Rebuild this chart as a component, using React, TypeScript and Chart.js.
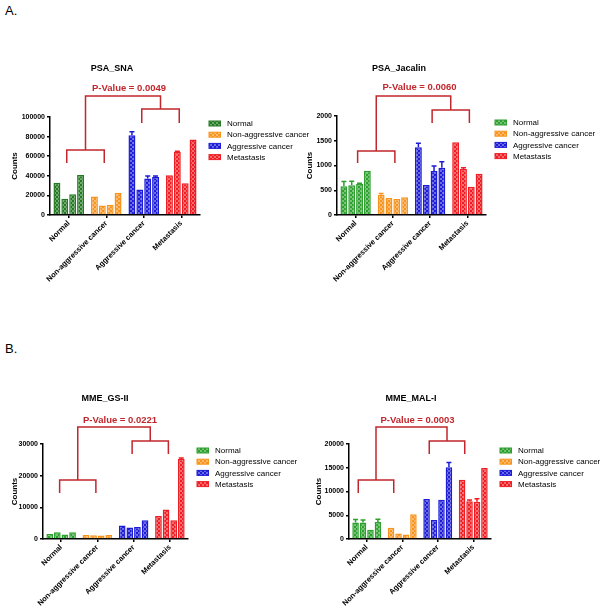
import React, { useEffect, useRef } from 'react';
import { Chart, registerables } from 'chart.js';
Chart.register(...registerables);

const categories = ['Normal', 'Non-aggressive cancer', 'Aggressive cancer', 'Metastasis'];
const baseColors = ['#2ca02c', '#f7941d', '#1c1cd6', '#ee1d23'];

// [category][sample]
const psaSnaValues = [
  [33000, 16600, 21300, 40900],
  [19000, 9700, 10500, 22600],
  [81400, 25900, 37200, 38900],
  [40600, 64400, 32400, 77000],
];
const psaSnaErrors = [
  [0, 0, 0, 0],
  [0, 0, 0, 0],
  [3600, 0, 2700, 800],
  [0, 600, 0, 0],
];
const psaJacalinValues = [
  [580, 600, 626, 896],
  [410, 343, 323, 357],
  [1367, 606, 889, 956],
  [1468, 929, 572, 835],
];
const psaJacalinErrors = [
  [95, 80, 15, 0],
  [25, 0, 0, 0],
  [80, 0, 100, 120],
  [0, 25, 0, 0],
];
const mmeGsValues = [
  [1600, 2100, 1400, 2100],
  [1300, 1200, 1100, 1300],
  [4300, 3600, 3800, 5900],
  [7300, 9300, 5900, 25300],
];
const mmeGsErrors = [
  [0, 0, 0, 0],
  [0, 0, 0, 0],
  [0, 0, 0, 0],
  [0, 0, 0, 300],
];
const mmeMalValues = [
  [3500, 3450, 1950, 3600],
  [2350, 1150, 950, 5200],
  [8400, 4000, 8250, 15100],
  [12450, 7950, 7850, 14950],
];
const mmeMalErrors = [
  [600, 550, 0, 550],
  [0, 0, 0, 0],
  [0, 0, 0, 1000],
  [0, 250, 650, 0],
];

const FONT = "'Liberation Sans', Arial, Helvetica, sans-serif";
const RED = '#c1272d';

const panels = [
  {
    id: 'a1', title: 'PSA_SNA', pText: 'P-Value = 0.0049', values: psaSnaValues, errors: psaSnaErrors,
    yMax: 100000, step: 20000, left: 50, top: 117, right: 200, bottom: 215, padL: 6,
    normalColor: '#237a23', shift: -2,
    lv: { top: -21, rightH: -8, rightLeg: 6, leftH: 33, leftLeg: 46, p: -29, title: -48 },
  },
  {
    id: 'a2', title: 'PSA_Jacalin', pText: 'P-Value = 0.0060', values: psaJacalinValues, errors: psaJacalinErrors,
    yMax: 2000, step: 500, left: 337, top: 116, right: 486, bottom: 215, padL: 301,
    normalColor: '#2f9f2f', shift: 2,
    lv: { top: -20, rightH: -6, rightLeg: 7, leftH: 35, leftLeg: 47, p: -29, title: -47 },
  },
  {
    id: 'b1', title: 'MME_GS-II', pText: 'P-Value = 0.0221', values: mmeGsValues, errors: mmeGsErrors,
    yMax: 30000, step: 10000, left: 43, top: 444, right: 188, bottom: 539, padL: 6,
    normalColor: '#2ca02c', shift: -1.5,
    lv: { top: -17, rightH: -3, rightLeg: 10, leftH: 36, leftLeg: 49, p: -24, title: -45 },
  },
  {
    id: 'b2', title: 'MME_MAL-I', pText: 'P-Value = 0.0003', values: mmeMalValues, errors: mmeMalErrors,
    yMax: 20000, step: 5000, left: 349, top: 444, right: 491, bottom: 539, padL: 310,
    normalColor: '#2ca02c', shift: -8.5,
    lv: { top: -17, rightH: -3, rightLeg: 10, leftH: 36, leftLeg: 49, p: -24, title: -45 },
  },
];

function makePattern(color: string) {
  const c = document.createElement('canvas');
  c.width = 4; c.height = 4;
  const g = c.getContext('2d')!;
  g.fillStyle = '#ffffff';
  g.fillRect(0, 0, 4, 4);
  g.globalAlpha = 0.65;
  g.fillStyle = color;
  g.fillRect(0, 0, 4, 4);
  g.globalAlpha = 1;
  g.fillRect(0, 0, 2, 2);
  g.fillRect(2, 2, 2, 2);
  return g.createPattern(c, 'repeat');
}

const X_H = 95;

function Panel({ cfg }: { cfg: any }) {
  const ref = useRef<HTMLCanvasElement | null>(null);
  useEffect(() => {
    const colors = [cfg.normalColor, ...baseColors.slice(1)];
    const patterns = colors.map(makePattern);
    const yW = cfg.left - cfg.padL;

    const annot = {
      id: 'annot_' + cfg.id,
      afterDatasetsDraw(chart: any) {
        const ctx = chart.ctx;
        const ys = chart.scales.y;
        ctx.save();
        chart.data.datasets.forEach((ds: any, s: number) => {
          const meta = chart.getDatasetMeta(s);
          meta.data.forEach((el: any, c: number) => {
            const e = cfg.errors[c][s];
            if (!e) return;
            const v = cfg.values[c][s];
            const yTop = ys.getPixelForValue(v + e);
            ctx.strokeStyle = colors[c];
            ctx.lineWidth = 1.5;
            ctx.beginPath();
            ctx.moveTo(el.x, el.y);
            ctx.lineTo(el.x, yTop);
            ctx.moveTo(el.x - 2.5, yTop);
            ctx.lineTo(el.x + 2.5, yTop);
            ctx.stroke();
          });
        });
        ctx.restore();
      },
      afterDraw(chart: any) {
        const ctx = chart.ctx;
        const xs = chart.scales.x;
        const area = chart.chartArea;
        const t = area.top;
        const lv = cfg.lv;
        const cx = (i: number) => xs.getPixelForValue(i) + cfg.shift;
        const l1 = cx(0), r1 = cx(1), l2 = cx(2), r2 = cx(3);
        const m1 = (l1 + r1) / 2, m2 = (l2 + r2) / 2;
        ctx.save();
        ctx.strokeStyle = RED;
        ctx.lineWidth = 1.5;
        ctx.beginPath();
        ctx.moveTo(l1, t + lv.leftLeg); ctx.lineTo(l1, t + lv.leftH); ctx.lineTo(r1, t + lv.leftH); ctx.lineTo(r1, t + lv.leftLeg);
        ctx.moveTo(l2, t + lv.rightLeg); ctx.lineTo(l2, t + lv.rightH); ctx.lineTo(r2, t + lv.rightH); ctx.lineTo(r2, t + lv.rightLeg);
        ctx.moveTo(m1, t + lv.leftH); ctx.lineTo(m1, t + lv.top); ctx.lineTo(m2, t + lv.top); ctx.lineTo(m2, t + lv.rightH);
        ctx.stroke();

        ctx.textAlign = 'center';
        ctx.textBaseline = 'middle';
        ctx.fillStyle = RED;
        ctx.font = `bold 9.5px ${FONT}`;
        ctx.fillText(cfg.pText, (m1 + m2) / 2 + 6, t + lv.p);
        ctx.fillStyle = '#000';
        ctx.font = `bold 9px ${FONT}`;
        ctx.fillText(cfg.title, area.left + 62, t + lv.title);

        // legend
        ctx.textAlign = 'left';
        ctx.font = `8px ${FONT}`;
        categories.forEach((name, i) => {
          const yc = t + 6.5 + i * 11.2;
          const bx = area.right + 9;
          ctx.fillStyle = patterns[i] as any;
          ctx.fillRect(bx, yc - 2.5, 11.5, 5);
          ctx.strokeStyle = colors[i];
          ctx.lineWidth = 1;
          ctx.strokeRect(bx, yc - 2.5, 11.5, 5);
          ctx.fillStyle = '#000';
          ctx.fillText(name, area.right + 27, yc + 0.5);
        });
        ctx.restore();
      },
    };

    const chart = new Chart(ref.current!, {
      type: 'bar',
      data: {
        labels: categories,
        datasets: [0, 1, 2, 3].map((s) => ({
          label: 'Sample ' + (s + 1),
          data: cfg.values.map((v: number[]) => v[s]),
          backgroundColor: patterns as any,
          borderColor: colors,
          borderWidth: 1.5,
          barPercentage: 0.88,
          categoryPercentage: 0.84,
        })),
      },
      options: {
        responsive: false,
        animation: false,
        devicePixelRatio: 1,
        layout: {
          padding: {
            left: cfg.padL,
            top: cfg.top,
            right: 601 - cfg.right,
            bottom: 609 - cfg.bottom - X_H,
          },
        },
        plugins: {
          legend: { display: false },
          title: { display: false },
          tooltip: { enabled: false },
        },
        scales: {
          x: {
            grid: { display: true, drawOnChartArea: false, offset: false, tickLength: 3, color: '#000', lineWidth: 1.5 },
            border: { display: true, color: '#000', width: 1.5 },
            ticks: {
              autoSkip: false, maxRotation: 45, minRotation: 45, color: '#000', padding: 1,
              font: { family: FONT, size: 7.5, weight: 'bold' },
            },
            afterFit: (s: any) => { s.height = X_H; },
          },
          y: {
            min: 0,
            max: cfg.yMax,
            ticks: {
              stepSize: cfg.step, color: '#000', padding: 2,
              font: { family: FONT, size: 7, weight: 'bold' },
              callback: (v: any) => String(v),
            },
            grid: { drawOnChartArea: false, tickLength: 3, color: '#000', lineWidth: 1.5 },
            border: { display: true, color: '#000', width: 1.5 },
            title: {
              display: true, text: 'Counts', color: '#000',
              font: { family: FONT, size: 8, weight: 'bold' },
              padding: { top: 4, bottom: 4 },
            },
            afterFit: (s: any) => { s.width = yW; },
          },
        },
      } as any,
      plugins: [annot],
    });
    return () => chart.destroy();
  }, []);
  return (
    <canvas
      ref={ref}
      width={601}
      height={609}
      style={{ position: 'absolute', left: 0, top: 0, width: 601, height: 609 }}
    />
  );
}

export default function App() {
  return (
    <div style={{ position: 'fixed', left: 0, top: 0, width: 601, height: 609, background: '#fff', overflow: 'hidden' }}>
      <div style={{ position: 'absolute', left: 5, top: 3, fontFamily: FONT, fontSize: 13, color: '#000' }}>A.</div>
      <div style={{ position: 'absolute', left: 5, top: 341, fontFamily: FONT, fontSize: 13, color: '#000' }}>B.</div>
      {panels.map((p) => (
        <Panel key={p.id} cfg={p} />
      ))}
    </div>
  );
}
